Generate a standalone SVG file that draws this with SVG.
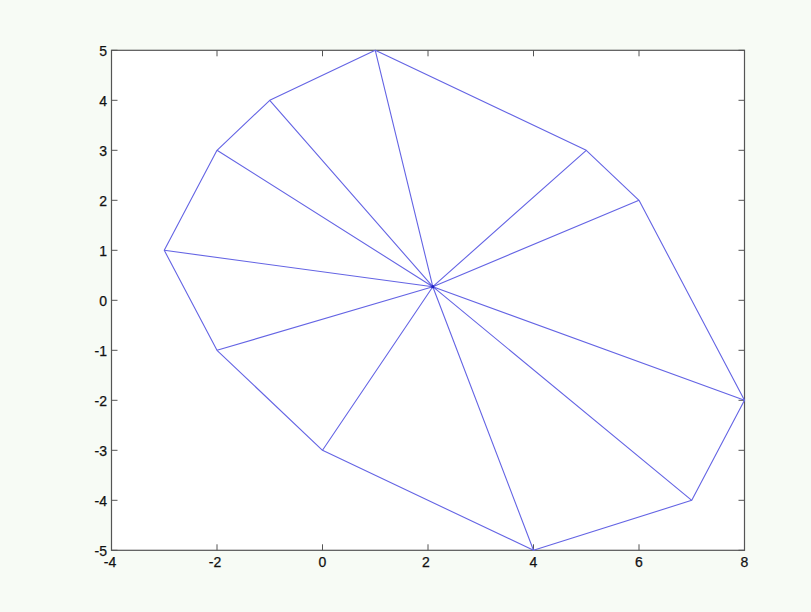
<svg xmlns="http://www.w3.org/2000/svg" width="811" height="612" viewBox="0 0 811 612">
<style>
.bg{fill:#f7fbf5}
.ax{fill:#ffffff;stroke:#555;stroke-width:1.2}
.tk{stroke:#555;stroke-width:1}
.lbl{font-family:"Liberation Sans",Arial,sans-serif;font-size:14px;fill:#111;stroke:#111;stroke-width:0.25}
.xl{text-anchor:middle}
.yl{text-anchor:end}
.ln{stroke:#6464e4;stroke-width:1.1;fill:none;stroke-linejoin:round}
</style>
<rect class="bg" x="0" y="0" width="811" height="612"/>
<g id="axes">
<rect class="ax" x="111.5" y="50.3" width="633" height="500"/>
<path class="tk" d="M111.5 550.3v-6M217 550.3v-6M322.5 550.3v-6M428 550.3v-6M533.5 550.3v-6M639 550.3v-6M744.5 550.3v-6
M111.5 50.3v6M217 50.3v6M322.5 50.3v6M428 50.3v6M533.5 50.3v6M639 50.3v6M744.5 50.3v6
M111.5 50.3h6M111.5 100.3h6M111.5 150.3h6M111.5 200.3h6M111.5 250.3h6M111.5 300.3h6M111.5 350.3h6M111.5 400.3h6M111.5 450.3h6M111.5 500.3h6M111.5 550.3h6
M744.5 50.3h-6M744.5 100.3h-6M744.5 150.3h-6M744.5 200.3h-6M744.5 250.3h-6M744.5 300.3h-6M744.5 350.3h-6M744.5 400.3h-6M744.5 450.3h-6M744.5 500.3h-6M744.5 550.3h-6"/>
</g>
<g id="xlabels" class="lbl xl">
<text x="110" y="567">-4</text>
<text x="215" y="567">-2</text>
<text x="322.5" y="567">0</text>
<text x="426" y="567">2</text>
<text x="533.5" y="567">4</text>
<text x="639" y="567">6</text>
<text x="744.5" y="567">8</text>
</g>
<g id="ylabels" class="lbl yl">
<text x="107" y="55.5">5</text>
<text x="107" y="105.5">4</text>
<text x="107" y="155.5">3</text>
<text x="107" y="205.5">2</text>
<text x="107" y="255.5">1</text>
<text x="107" y="305.5">0</text>
<text x="107" y="355.5">-1</text>
<text x="107" y="405.5">-2</text>
<text x="107" y="455.5">-3</text>
<text x="107" y="505.5">-4</text>
<text x="107" y="555.5">-5</text>
</g>
<g id="connectors">
<polygon class="ln" points="375.25,50.3 586.25,150.3 639,200.3 744.5,400.3 691.75,500.3 533.5,550.3 322.5,450.3 217,350.3 164.25,250.3 217,150.3 269.75,100.3"/>
<path class="ln" d="M432.8 286.7L375.25 50.3M432.8 286.7L586.25 150.3M432.8 286.7L639 200.3M432.8 286.7L744.5 400.3M432.8 286.7L691.75 500.3M432.8 286.7L533.5 550.3M432.8 286.7L322.5 450.3M432.8 286.7L217 350.3M432.8 286.7L164.25 250.3M432.8 286.7L217 150.3M432.8 286.7L269.75 100.3"/>
</g>
<g id="center">
<circle cx="432.8" cy="286.7" r="1.6" fill="#2020c0"/>
</g>
</svg>
